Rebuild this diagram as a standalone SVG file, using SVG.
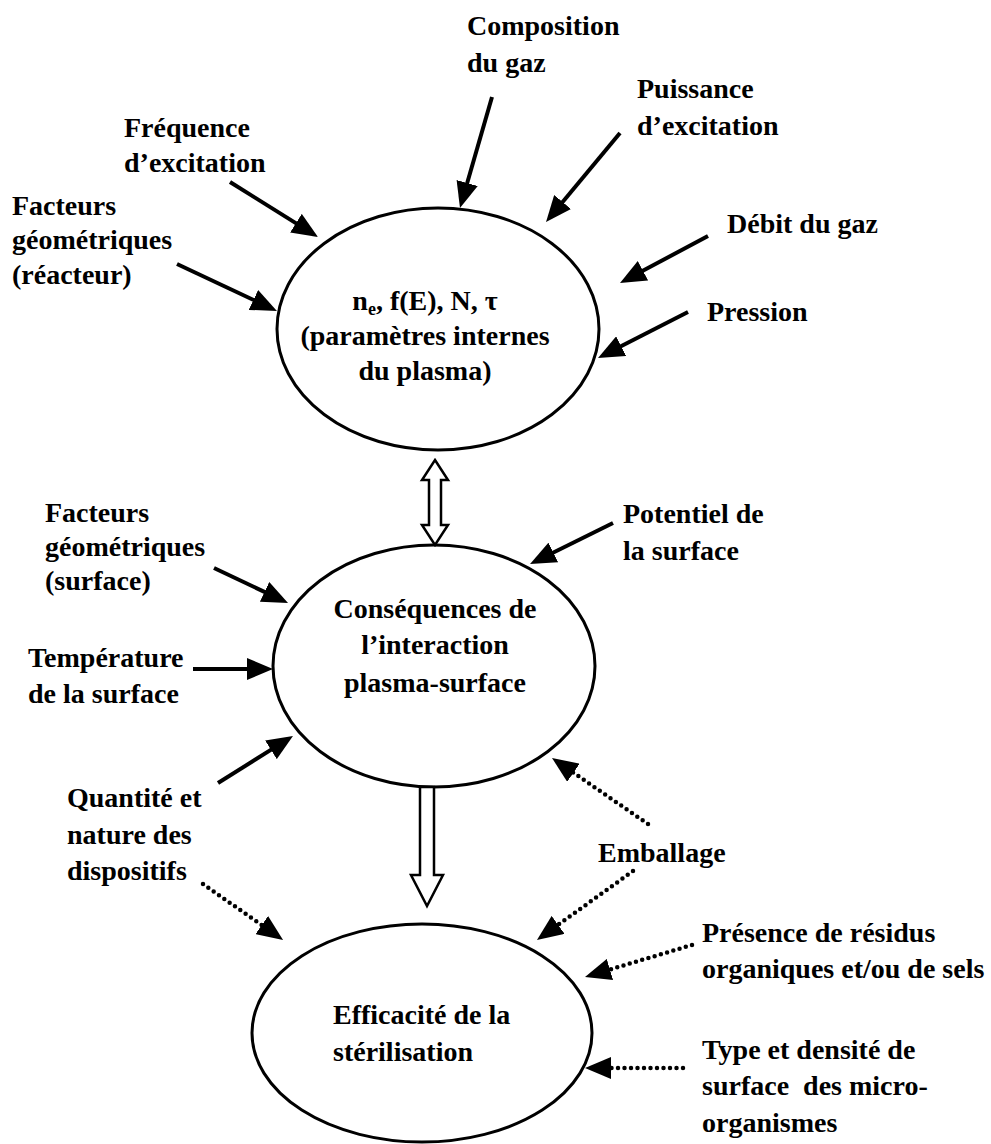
<svg xmlns="http://www.w3.org/2000/svg" width="991" height="1144" viewBox="0 0 991 1144">
  <style>
    text { font-family: "Liberation Serif", "Times New Roman", serif; font-weight: bold; font-size: 28px; fill: #000; }
    .mid { text-anchor: middle; }
    .node { fill: #fff; stroke: #000; stroke-width: 3; }
    .solid { fill: none; stroke: #000; stroke-width: 4; marker-end: url(#head); }
    .dotted { fill: none; stroke: #000; stroke-width: 4.5; stroke-linecap: round; stroke-dasharray: 0 6.5; marker-end: url(#head); }
    .hollow { fill: #fff; stroke: #000; stroke-width: 2.5; stroke-linejoin: miter; }
  </style>
  <defs>
    <marker id="head" viewBox="0 0 26 22" refX="14" refY="11" markerWidth="26" markerHeight="22" markerUnits="userSpaceOnUse" orient="auto">
      <path d="M0,0 L26,11 L0,22 Z" fill="#000"/>
    </marker>
  </defs>
  <rect width="991" height="1144" fill="#fff"/>

  <!-- central chain of states -->
  <g id="plasma">
    <ellipse class="node" cx="438" cy="329" rx="161" ry="121"/>
    <text class="mid" x="425" y="310">n<tspan font-size="18" dy="5">e</tspan><tspan dy="-5">, f(E), N, τ</tspan></text>
    <text class="mid" x="425" y="345">(paramètres internes</text>
    <text class="mid" x="425" y="380">du plasma)</text>
  </g>
  <g id="interaction">
    <ellipse class="node" cx="434" cy="666" rx="161" ry="121"/>
    <text class="mid" x="435" y="618">Conséquences de</text>
    <text class="mid" x="435" y="654">l’interaction</text>
    <text class="mid" x="435" y="692">plasma-surface</text>
  </g>
  <g id="efficacite">
    <ellipse class="node" cx="422" cy="1033" rx="170" ry="109"/>
    <text x="333" y="1024">Efficacité de la</text>
    <text x="333" y="1061">stérilisation</text>
  </g>

  <!-- external parameters -->
  <g id="composition"><text x="467" y="35">Composition</text><text x="467" y="72">du gaz</text></g>
  <g id="puissance"><text x="637" y="98">Puissance</text><text x="637" y="135">d’excitation</text></g>
  <g id="frequence"><text x="124" y="137">Fréquence</text><text x="124" y="172">d’excitation</text></g>
  <g id="geom-reacteur"><text x="12" y="215">Facteurs</text><text x="12" y="249">géométriques</text><text x="12" y="284">(réacteur)</text></g>
  <g id="debit"><text x="727" y="233">Débit du gaz</text></g>
  <g id="pression"><text x="707" y="321">Pression</text></g>
  <g id="geom-surface"><text x="45" y="522">Facteurs</text><text x="45" y="556">géométriques</text><text x="45" y="590">(surface)</text></g>
  <g id="potentiel"><text x="623" y="523">Potentiel de</text><text x="623" y="560">la surface</text></g>
  <g id="temperature"><text x="28" y="667">Température</text><text x="28" y="703">de la surface</text></g>
  <g id="quantite"><text x="67" y="807">Quantité et</text><text x="67" y="844">nature des</text><text x="67" y="880">dispositifs</text></g>
  <g id="emballage"><text x="598" y="862">Emballage</text></g>
  <g id="residus"><text x="702" y="942">Présence de résidus</text><text x="702" y="978">organiques et/ou de sels</text></g>
  <g id="micro"><text x="702" y="1059">Type et densité de</text><text x="702" y="1095">surface&#160; des micro-</text><text x="702" y="1132">organismes</text></g>

  <!-- connectors -->
  <g id="connectors">
    <path class="solid" d="M492,97 L463.3,196.5"/>
    <path class="solid" d="M230,182 L307.8,230.6"/>
    <path class="solid" d="M177,264 L266.1,305.9"/>
    <path class="solid" d="M620,133 L553.7,212.8"/>
    <path class="solid" d="M708,236 L630.6,277.3"/>
    <path class="solid" d="M688,312 L608.7,352.5"/>
    <path class="solid" d="M613,523 L540.8,558.7"/>
    <path class="solid" d="M214,568 L277.2,597.9"/>
    <path class="solid" d="M193,669 L261,669"/>
    <path class="solid" d="M218,783 L282.8,742.4"/>
    <path class="dotted" d="M203,884 L273.2,933.1"/>
    <path class="dotted" d="M648,824 L561.9,764.8"/>
    <path class="dotted" d="M633,871 L546.7,933"/>
    <path class="dotted" d="M692,945 L596.5,973.5"/>
    <path class="dotted" d="M683,1068 L597,1068"/>
    <path class="hollow" d="M435,460 L448,480 L441,480 L441,525 L448,525 L435,545 L422,525 L429,525 L429,480 L422,480 Z"/>
    <path class="hollow" d="M420,787 L434,787 L434,875 L443,875 L427,906 L411,875 L420,875 Z"/>
  </g>
</svg>
